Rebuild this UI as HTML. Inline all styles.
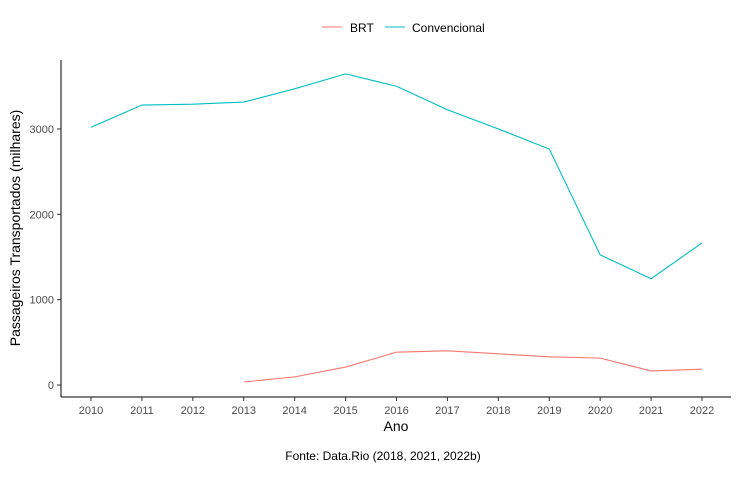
<!DOCTYPE html>
<html><head><meta charset="utf-8"><style>
body{margin:0;background:#fff;}
svg text{font-family:"Liberation Sans",Arial,sans-serif;}
</style></head><body>
<svg width="740" height="475">
<g id="legend">
<line x1="322" y1="27" x2="342" y2="27" stroke="#F8766D" stroke-width="1.1"/>
<text x="350" y="32" font-size="12" fill="#000">BRT</text>
<line x1="385" y1="27" x2="405" y2="27" stroke="#00BFC4" stroke-width="1.1"/>
<text x="412" y="32" font-size="12" fill="#000">Convencional</text>
</g>
<g id="axes"></g>
<g id="series"></g>
<text x="396" y="431" font-size="14" text-anchor="middle">Ano</text>
<text transform="translate(20,228) rotate(-90)" font-size="14" text-anchor="middle">Passageiros Transportados (milhares)</text>
<text x="383" y="460" font-size="12" text-anchor="middle">Fonte: Data.Rio (2018, 2021, 2022b)</text>
</svg>
<script>
const years=[2010,2011,2012,2013,2014,2015,2016,2017,2018,2019,2020,2021,2022];
const convencional=[3020,3280,3290,3315,3470,3645,3500,3225,3000,2765,1525,1245,1665];
const brtYears=[2013,2014,2015,2016,2017,2018,2019,2020,2021,2022];
const brt=[35,95,210,385,400,365,330,315,165,185];
const yTicks=[0,1000,2000,3000];
const NS="http://www.w3.org/2000/svg";
const xs=y=>91+(y-2010)*(702-91)/12;
const ys=v=>385-v*0.08535;
function mk(tag,attrs,parent){const e=document.createElementNS(NS,tag);for(const k in attrs)e.setAttribute(k,attrs[k]);parent.appendChild(e);return e;}
const ax=document.getElementById('axes');
let l=mk('line',{x1:61,y1:60,x2:61,y2:397,stroke:'#000','stroke-width':1},ax);


l=mk('line',{x1:61,y1:397,x2:731,y2:397,stroke:'#000','stroke-width':1},ax);


yTicks.forEach(v=>{
 mk('line',{x1:57,x2:61,y1:ys(v),y2:ys(v),stroke:'#333'},ax);
 const t=mk('text',{x:54,y:ys(v)+4,'font-size':11,'text-anchor':'end',fill:'#4d4d4d'},ax);t.textContent=v;
 
 
});
years.forEach(y=>{
 mk('line',{x1:xs(y),x2:xs(y),y1:397,y2:401,stroke:'#333'},ax);
 const t=mk('text',{x:xs(y),y:414,'font-size':11,'text-anchor':'middle',fill:'#4d4d4d'},ax);t.textContent=y;
 
 
});
const s=document.getElementById('series');
let p=mk('polyline',{points:years.map((y,i)=>xs(y)+','+ys(convencional[i])).join(' '),fill:'none',stroke:'#00BFC4','stroke-width':1.1},s);


p=mk('polyline',{points:brtYears.map((y,i)=>xs(y)+','+ys(brt[i])).join(' '),fill:'none',stroke:'#F8766D','stroke-width':1.1},s);


</script>
</body></html>
